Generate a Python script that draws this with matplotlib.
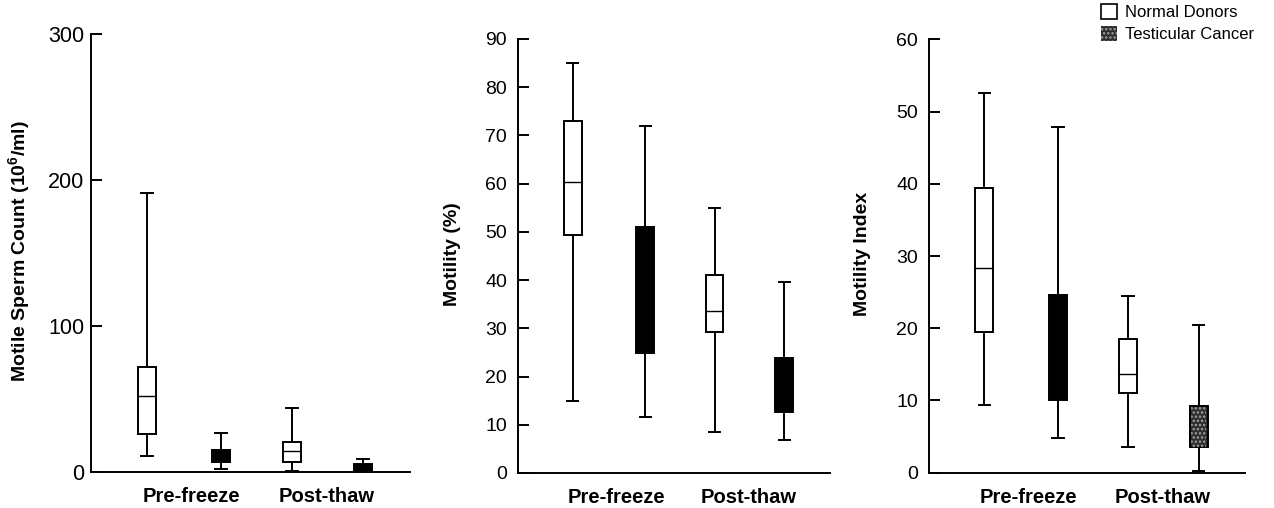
import matplotlib
matplotlib.use("Agg")
import matplotlib.pyplot as plt
from matplotlib.patches import Patch

plt.rcParams['font.family'] = ['Liberation Sans', 'DejaVu Sans']
plt.rcParams['mathtext.fontset'] = 'custom'
plt.rcParams['mathtext.rm'] = 'Liberation Sans'
plt.rcParams['mathtext.bf'] = 'Liberation Sans:bold'
plt.rcParams['hatch.linewidth'] = 1.2

# order inside each panel: normal pre, cancer pre, normal post, cancer post
groups = ["Normal Donors", "Testicular Cancer", "Normal Donors", "Testicular Cancer"]
periods = ["Pre-freeze", "Post-thaw"]

# whisker low, q1, median, q3, whisker high
count_low = [11, 2, 0.5, 0]
count_q1 = [26, 6.8, 6.8, 0]
count_med = [52, 11, 14.5, 2]
count_q3 = [72, 15.3, 20.8, 5.7]
count_high = [191, 27, 44, 9]

motil_low = [15, 11.5, 8.5, 6.8]
motil_q1 = [49.3, 24.8, 29.3, 12.6]
motil_med = [60.3, 35, 33.6, 17]
motil_q3 = [73, 51, 41, 23.8]
motil_high = [85, 72, 55, 39.5]

index_low = [9.4, 4.8, 3.5, 0.3]
index_q1 = [19.5, 10, 11, 3.6]
index_med = [28.4, 16, 13.7, 6]
index_q3 = [39.4, 24.6, 18.5, 9.3]
index_high = [52.6, 47.8, 24.5, 20.4]

panels = [
    (count_low, count_q1, count_med, count_q3, count_high,
     r"Motile Sperm Count (10$^{\mathbf{6}}$/ml)", 300, [0, 100, 200, 300], 15.5, 5),
    (motil_low, motil_q1, motil_med, motil_q3, motil_high,
     "Motility (%)", 90, list(range(0, 91, 10)), 14, 8),
    (index_low, index_q1, index_med, index_q3, index_high,
     "Motility Index", 60, list(range(0, 61, 10)), 14, 8),
]

positions = [0.175, 0.408, 0.63, 0.853]
axes_rects = [
    [0.0714, 0.0709, 0.2504, 0.8616],
    [0.4066, 0.0690, 0.2449, 0.8543],
    [0.7292, 0.0695, 0.2480, 0.8531],
]

fig = plt.figure(figsize=(12.74, 5.08), dpi=100)

for i, (lo, q1, med, q3, hi, label, ymax, ticks, tfs, tpad) in enumerate(panels):
    ax = fig.add_axes(axes_rects[i])
    stats = []
    for k in range(4):
        stats.append({"whislo": lo[k], "q1": q1[k], "med": med[k],
                      "q3": q3[k], "whishi": hi[k], "fliers": []})
    bp = ax.bxp(stats, positions=positions, widths=0.057, capwidths=0.036,
                patch_artist=True, showfliers=False, manage_ticks=False,
                boxprops=dict(linewidth=1.4, edgecolor='black'),
                whiskerprops=dict(linewidth=1.4, color='black'),
                capprops=dict(linewidth=1.4, color='black'),
                medianprops=dict(linewidth=1.0, color='black'))
    for k, box in enumerate(bp['boxes']):
        if groups[k] == "Normal Donors":
            box.set_facecolor('white')
        else:
            fill = '#2e2e2e' if (i == 2 and k == 3) else 'black'
            box.set_facecolor(fill)
            bp['medians'][k].set_color(fill)
    if i == 2:
        # stippled look of the last cancer box
        ax.bar([positions[3]], [q3[3] - q1[3]], bottom=[q1[3]], width=0.048,
               facecolor='none', edgecolor='#a0a0a0', hatch='....', linewidth=0,
               zorder=3)

    ax.set_xlim(0, 1)
    ax.set_ylim(0, ymax)
    ax.set_yticks(ticks)
    ax.tick_params(axis='y', direction='in', length=8, width=1.4,
                   labelsize=tfs, pad=tpad)
    ax.set_xticks([0.315, 0.74])
    ax.set_xticklabels(periods, fontsize=14.5, fontweight='bold')
    ax.tick_params(axis='x', length=0, pad=11)
    for s in ['top', 'right']:
        ax.spines[s].set_visible(False)
    for s in ['left', 'bottom']:
        ax.spines[s].set_linewidth(1.4)
    ax.set_ylabel(label, fontsize=14, fontweight='bold')
    ax.yaxis.set_label_coords(-0.183, 0.505)

handles = [Patch(facecolor='white', edgecolor='black', linewidth=1.2),
           Patch(facecolor='#2e2e2e', edgecolor='#a0a0a0', hatch='....', linewidth=0)]
fig.legend(handles, ["Normal Donors", "Testicular Cancer"], loc='upper left',
           bbox_to_anchor=(1099 / 1274, 1 - 2 / 508), frameon=False, fontsize=12,
           handlelength=1.0, handleheight=1.0, handletextpad=0.45,
           labelspacing=0.35, borderaxespad=0, borderpad=0.1)

fig.savefig("out.png", dpi=100)
